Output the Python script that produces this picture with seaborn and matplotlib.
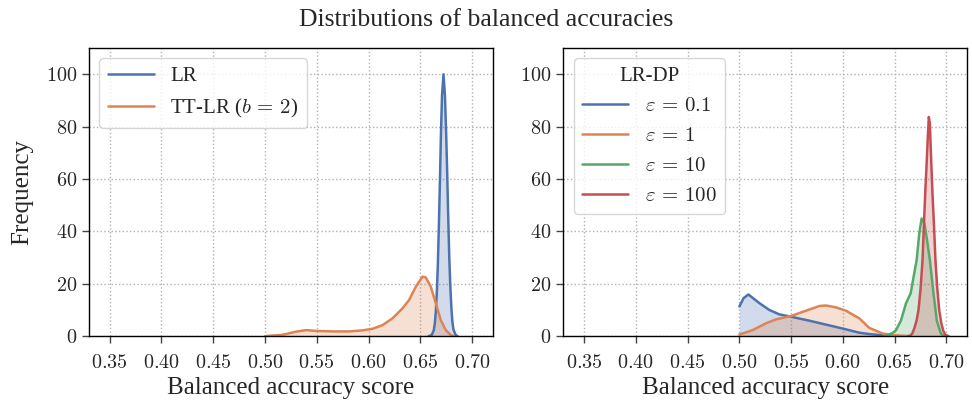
import numpy as np
import pandas as pd
import matplotlib
matplotlib.use("Agg")
import matplotlib.pyplot as plt
from matplotlib.ticker import FuncFormatter
import seaborn as sns

# Curvas de densidad (x = balanced accuracy, y = densidad)
lr_x = [0.658, 0.661, 0.663, 0.664, 0.665, 0.666, 0.667, 0.668, 0.669, 0.670, 0.671, 0.6724,
        0.6738, 0.675, 0.676, 0.677, 0.678, 0.679, 0.680, 0.681, 0.682, 0.684, 0.686]
lr_y = [0.0, 0.4, 2.2, 4.7, 9.4, 17, 28, 43, 60, 78, 92, 100,
        92, 77, 62, 45, 30, 19, 11, 5.5, 2.6, 0.5, 0.0]

ttlr_x = [0.500, 0.517, 0.530, 0.5396, 0.549, 0.5653, 0.5814, 0.5942, 0.6039, 0.6135, 0.6232,
          0.6328, 0.6392, 0.6457, 0.6521, 0.6553, 0.6601, 0.665, 0.6698, 0.6746, 0.6794, 0.6826]
ttlr_y = [0.0, 0.5, 1.7, 2.3, 2.0, 1.8, 1.8, 2.2, 2.8, 4.2, 6.8,
          10.6, 13.8, 18.9, 22.7, 22.4, 18.9, 12.5, 6.1, 2.3, 0.4, 0.0]

eps01_x = [0.500, 0.5040, 0.5087, 0.5193, 0.5289, 0.5386, 0.550, 0.5675, 0.5836, 0.5997,
           0.6158, 0.6253, 0.6382, 0.651]
eps01_y = [11.3, 14.5, 15.9, 12.6, 10.0, 8.3, 7.4, 5.9, 4.4, 2.9,
           1.3, 0.8, 0.3, 0.0]

eps1_x = [0.500, 0.5129, 0.5257, 0.5354, 0.550, 0.5643, 0.5772, 0.5836, 0.5932, 0.6029,
          0.6158, 0.6253, 0.6382, 0.651, 0.664]
eps1_y = [0.6, 2.3, 4.9, 6.4, 7.7, 9.7, 11.5, 11.7, 11.0, 9.7,
          6.8, 3.2, 1.0, 0.3, 0.0]

eps10_x = [0.640, 0.644, 0.648, 0.6513, 0.6561, 0.6609, 0.6654, 0.668, 0.6712, 0.6737, 0.676,
           0.6788, 0.6817, 0.684, 0.6875, 0.6907, 0.6946, 0.6968, 0.700]
eps10_y = [0.0, 0.5, 1.2, 2.3, 6.0, 12.5, 16.3, 22.0, 29.0, 39.0, 44.9,
           43.0, 35.5, 29.0, 16.3, 6.0, 1.0, 0.2, 0.0]

eps100_x = [0.663, 0.665, 0.667, 0.669, 0.6712, 0.673, 0.675, 0.6769, 0.678, 0.6795, 0.681,
            0.682, 0.683, 0.684, 0.685, 0.6865, 0.688, 0.6894, 0.691, 0.693, 0.695, 0.697,
            0.699, 0.702]
eps100_y = [0.0, 0.2, 1.0, 3.0, 6.0, 10.0, 18.0, 29.0, 40.0, 54.6, 67.0,
            76.0, 83.7, 81.0, 70.0, 54.6, 42.0, 29.0, 19.0, 10.0, 5.0, 2.0,
            0.5, 0.0]

left_labels = ["LR", r"TT-LR ($b\,=\,2$)"]
right_labels = [r"$\varepsilon\,=\,0.1$", r"$\varepsilon\,=\,1$", r"$\varepsilon\,=\,10$",
                r"$\varepsilon\,=\,100$"]

x_ticks = [0.35, 0.40, 0.45, 0.50, 0.55, 0.60, 0.65, 0.70]
y_ticks = [0, 20, 40, 60, 80, 100]

sns.set_style("ticks", {"axes.grid": True, "grid.linestyle": ":", "grid.color": "#b0b0b0",
                        "axes.edgecolor": "black"})
plt.rcParams["font.family"] = ["Liberation Serif", "DejaVu Serif"]
plt.rcParams["mathtext.fontset"] = "cm"

palette = sns.color_palette("deep")


def tabla(xs, ys, labels):
    partes = []
    for x, y, lab in zip(xs, ys, labels):
        partes.append(pd.DataFrame({"x": x, "y": y, "serie": lab}))
    return pd.concat(partes, ignore_index=True)


df_left = tabla([lr_x, ttlr_x], [lr_y, ttlr_y], left_labels)
df_right = tabla([eps01_x, eps1_x, eps10_x, eps100_x],
                 [eps01_y, eps1_y, eps10_y, eps100_y], right_labels)

fig, axes = plt.subplots(1, 2, figsize=(9.72, 4.04), dpi=100)
fig.subplots_adjust(left=0.0916, right=0.995, bottom=0.168, top=0.881, wspace=0.175)

for ax, df, labels in [(axes[0], df_left, left_labels), (axes[1], df_right, right_labels)]:
    cols = palette[:len(labels)]
    for lab, c in zip(labels, cols):
        sub = df[df["serie"] == lab]
        ax.fill_between(sub["x"], sub["y"], 0, color=c, alpha=0.25, linewidth=0)
    sns.lineplot(data=df, x="x", y="y", hue="serie", hue_order=labels,
                 palette=cols, estimator=None, sort=True, linewidth=1.8, ax=ax)
    ax.set_xlim(0.33, 0.72)
    ax.set_ylim(0, 110)
    ax.set_xticks(x_ticks)
    ax.set_yticks(y_ticks)
    ax.xaxis.set_major_formatter(FuncFormatter(lambda v, p: f"${v:.2f}$"))
    ax.yaxis.set_major_formatter(FuncFormatter(lambda v, p: f"${v:.0f}$"))
    ax.tick_params(labelsize=14.5, length=5, width=1, color="#444444")
    ax.tick_params(axis="x", pad=8)
    ax.grid(True, linestyle=":", color="#b0b0b0", linewidth=1)
    for s in ax.spines.values():
        s.set_linewidth(1)
        s.set_color("black")
    ax.set_xlabel("Balanced accuracy score", fontsize=18, labelpad=3)
    ax.set_ylabel("")

axes[0].set_ylabel("Frequency", fontsize=18, labelpad=9)
axes[0].legend(loc="upper left", fontsize=15, handlelength=2.2, fancybox=True)
axes[1].legend(loc="upper left", fontsize=15, handlelength=2.2, fancybox=True,
               title="LR-DP", title_fontsize=15)

fig.suptitle("Distributions of balanced accuracies", fontsize=18.5, y=0.978)

fig.savefig("out.png", dpi=100)
